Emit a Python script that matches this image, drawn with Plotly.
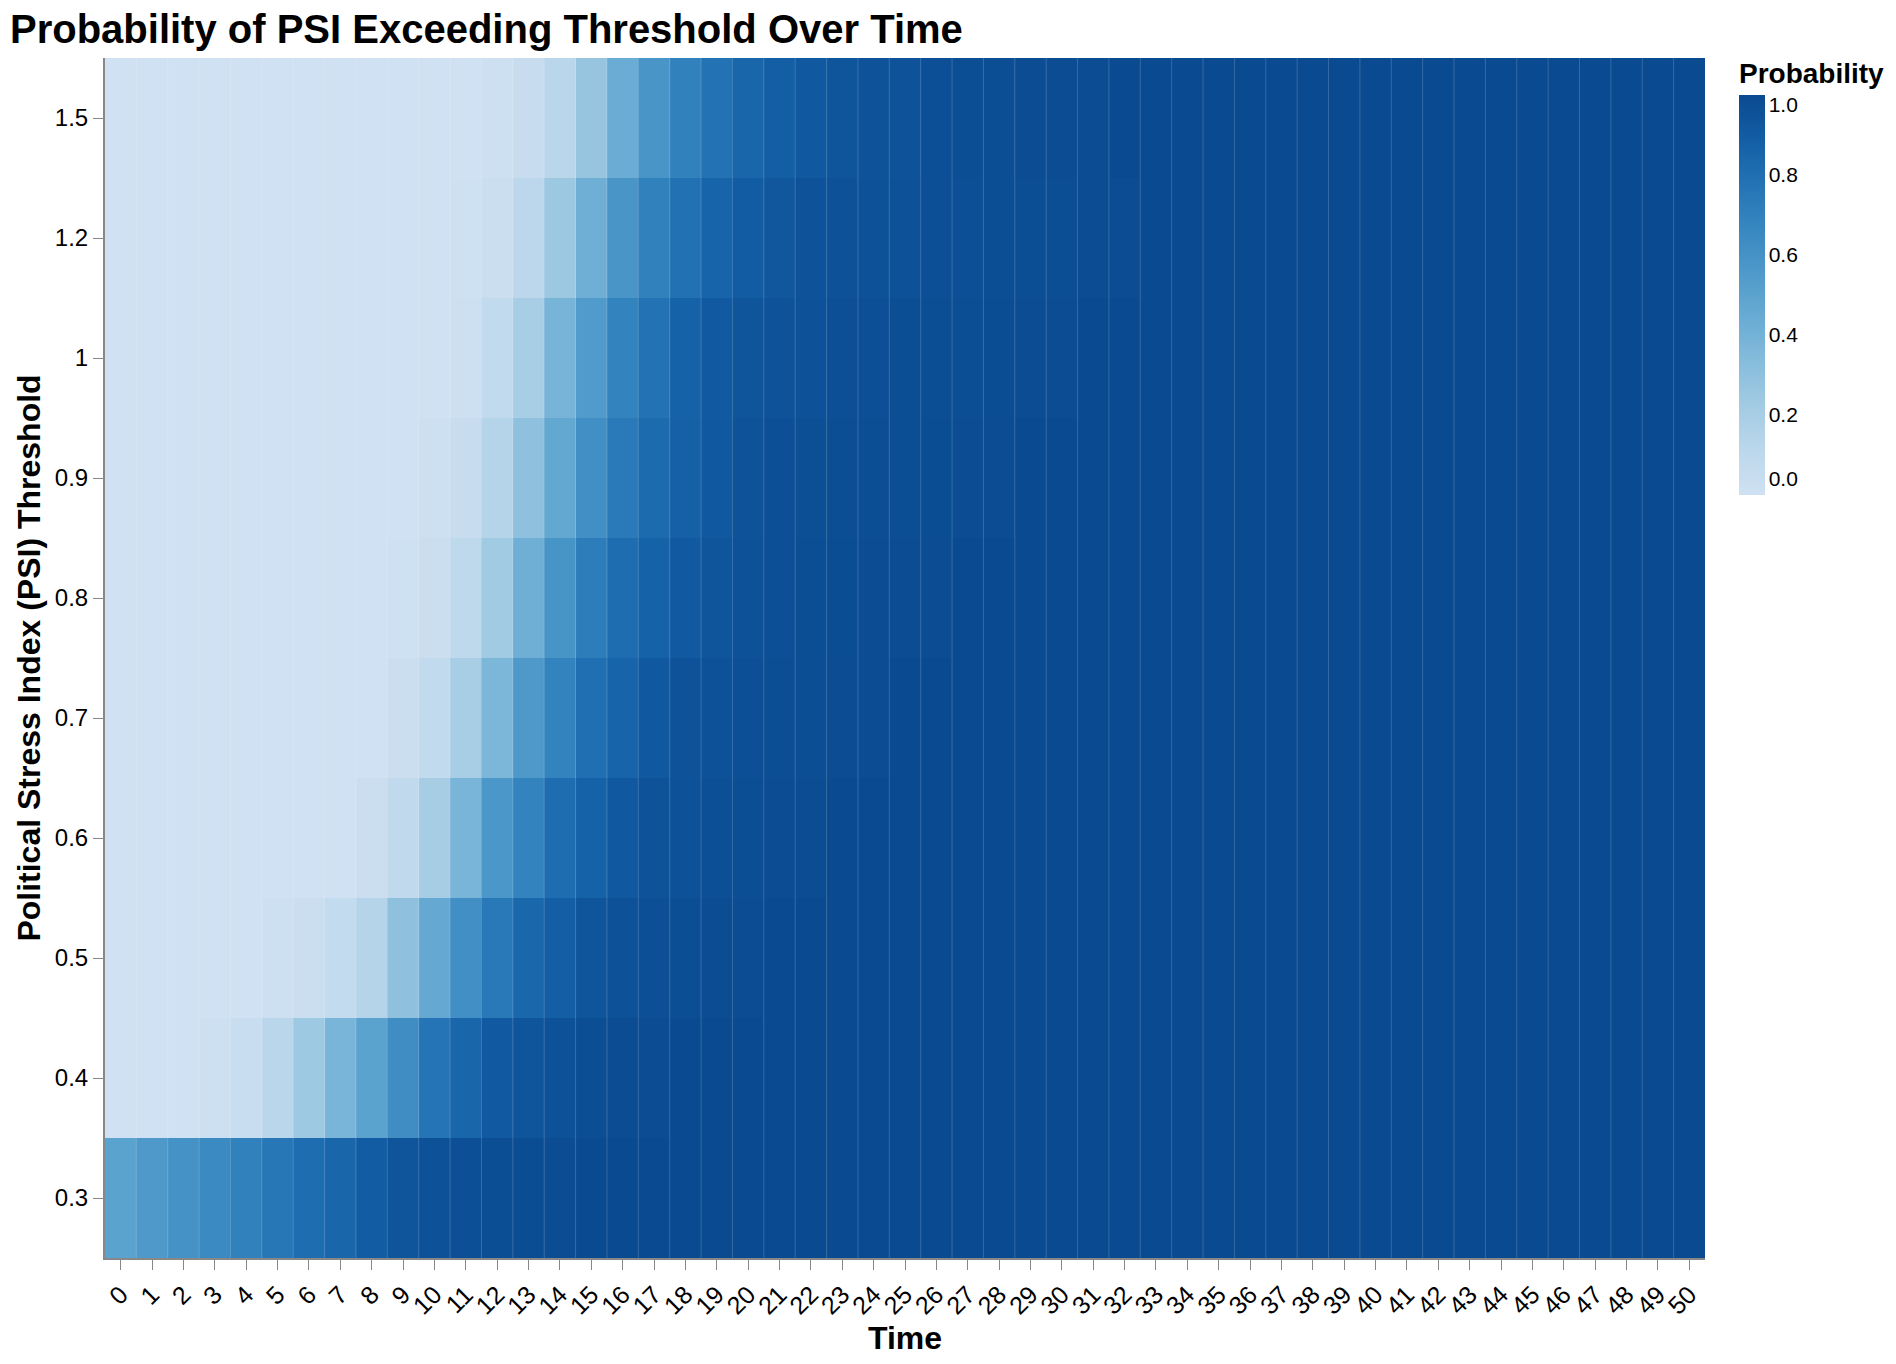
import plotly.graph_objects as go

# ---- data ----
time = list(range(51))
thresholds = ["0.3", "0.4", "0.5", "0.6", "0.7", "0.8", "0.9", "1", "1.2", "1.5"]

p_0_3 = [0.50, 0.56, 0.60, 0.65, 0.70, 0.76, 0.81, 0.85, 0.90, 0.94, 0.96, 0.97, 0.98, 0.985, 0.99] + [1.0] * 36
p_0_4 = [0, 0, 0, 0.01, 0.04, 0.12, 0.24, 0.38, 0.50, 0.63, 0.77, 0.85, 0.91, 0.94, 0.96, 0.98, 0.99, 0.99] + [1.0] * 33
p_0_5 = [0, 0, 0, 0, 0, 0.01, 0.03, 0.07, 0.14, 0.30, 0.46, 0.62, 0.75, 0.84, 0.89, 0.94, 0.96, 0.97, 0.98, 0.99, 0.99] + [1.0] * 30
p_0_6 = [0] * 8 + [0.03, 0.09, 0.21, 0.38, 0.57, 0.69, 0.81, 0.87, 0.92, 0.95, 0.96, 0.97, 0.98, 0.99, 0.99] + [1.0] * 28
p_0_7 = [0] * 9 + [0.03, 0.08, 0.20, 0.37, 0.56, 0.69, 0.80, 0.86, 0.92, 0.95, 0.96, 0.97, 0.98, 0.98, 0.99, 0.99] + [1.0] * 26
p_0_8 = [0] * 9 + [0.005, 0.03, 0.10, 0.23, 0.42, 0.59, 0.72, 0.81, 0.87, 0.91, 0.94, 0.96, 0.97, 0.98, 0.985, 0.99, 0.99, 0.99] + [1.0] * 24
p_0_9 = [0] * 10 + [0.01, 0.05, 0.14, 0.30, 0.47, 0.62, 0.74, 0.82, 0.88, 0.92, 0.95, 0.97, 0.975, 0.98, 0.98, 0.98, 0.985, 0.99, 0.99] + [1.0] * 22
p_1_0 = [0] * 11 + [0.01, 0.08, 0.20, 0.39, 0.55, 0.69, 0.78, 0.87, 0.91, 0.94, 0.95, 0.96, 0.97, 0.97, 0.98, 0.98, 0.98, 0.985, 0.99, 0.99] + [1.0] * 20
p_1_2 = [0] * 11 + [0.005, 0.03, 0.11, 0.25, 0.42, 0.58, 0.70, 0.79, 0.86, 0.90, 0.93, 0.95, 0.96, 0.96, 0.96, 0.97, 0.97, 0.98, 0.98, 0.98, 0.99, 0.99] + [1.0] * 18
p_1_5 = [0] * 12 + [0.01, 0.05, 0.12, 0.27, 0.44, 0.58, 0.70, 0.78, 0.85, 0.89, 0.92, 0.94, 0.95, 0.95, 0.97, 0.98, 0.98, 0.99, 0.99, 0.99] + [1.0] * 19

z = [p_0_3, p_0_4, p_0_5, p_0_6, p_0_7, p_0_8, p_0_9, p_1_0, p_1_2, p_1_5]

legend_ticks = [0.0, 0.2, 0.4, 0.6, 0.8, 1.0]

blues = ["#cfe1f2", "#bed8ec", "#a8cee5", "#8fc1de", "#74b2d7", "#5ba3cf",
         "#4592c6", "#3181bd", "#206fb2", "#125ca4", "#0a4a90"]
colorscale = [[i / 10, c] for i, c in enumerate(blues)]

FONT = "Arial, Liberation Sans, Helvetica, sans-serif"
W, H = 1896, 1364
L, R, T, B = 97, 199, 50, 114
plot_w = W - L - R
plot_h = H - T - B

# end labels of the gradient legend sit just inside the bar (as in the reference)
legend_pos = [min(max(v, 0.04), 0.975) for v in legend_ticks]

fig = go.Figure(go.Heatmap(
    x=time, y=thresholds, z=z,
    zmin=0, zmax=1,
    colorscale=colorscale,
    colorbar=dict(
        title=dict(text="<b>Probability</b>", side="top",
                   font=dict(size=28, family=FONT, color="#000")),
        thickness=26, thicknessmode="pixels",
        len=436, lenmode="pixels",
        x=(1731 - L) / plot_w, xanchor="left",
        y=(H - B - 51) / plot_h, yanchor="top",
        xpad=0, ypad=0,
        outlinewidth=0,
        tickmode="array",
        tickvals=legend_pos,
        ticktext=[f"{v:.1f}" for v in legend_ticks],
        ticks="outside", ticklen=0,
        tickfont=dict(size=21, family=FONT, color="#000"),
    ),
    hovertemplate="Time: %{x}<br>Threshold: %{y}<br>Probability: %{z}<extra></extra>",
))

# faint separators between the time columns
for t in time[:-1]:
    fig.add_shape(type="line", xref="x", yref="paper",
                  x0=t + 0.5, x1=t + 0.5, y0=0, y1=1,
                  line=dict(color="rgba(255,255,255,0.18)", width=1), layer="above")

fig.update_layout(
    width=W, height=H, autosize=False,
    margin=dict(l=L, r=R, t=T, b=B, pad=0),
    paper_bgcolor="white", plot_bgcolor="white",
    font=dict(family=FONT, color="#000"),
    title=dict(
        text="<b>Probability of PSI Exceeding Threshold Over Time</b>",
        font=dict(size=40, family=FONT, color="#000"),
        x=2 / W, xref="container", xanchor="left",
        y=1 - 21 / H, yref="container", yanchor="middle",
    ),
    xaxis=dict(
        title=dict(text="<b>Time</b>", font=dict(size=32, family=FONT, color="#000"), standoff=6),
        tickmode="array", tickvals=time, ticktext=[str(t) for t in time],
        tickangle=-45, tickfont=dict(size=25, family=FONT, color="#000"),
        ticks="outside", ticklen=10, tickcolor="#888", tickwidth=1,
        showline=True, linecolor="#888", linewidth=2,
        showgrid=False, zeroline=False,
        range=[-0.5, 50.5],
    ),
    yaxis=dict(
        title=dict(text="<b>Political Stress Index (PSI) Threshold</b>",
                   font=dict(size=32, family=FONT, color="#000"), standoff=5),
        type="category",
        tickfont=dict(size=24, family=FONT, color="#000"),
        ticks="outside", ticklen=10, tickcolor="#888", tickwidth=1,
        showline=True, linecolor="#888", linewidth=2,
        showgrid=False, zeroline=False,
    ),
)

fig.write_html("out.html")
